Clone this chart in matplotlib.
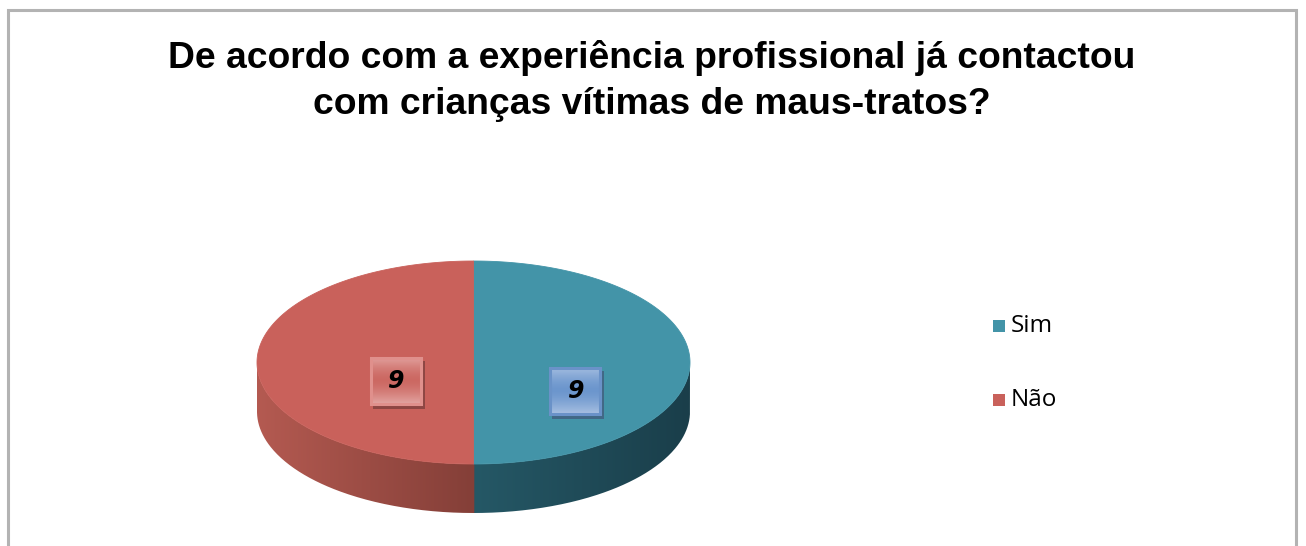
import numpy as np
import matplotlib
matplotlib.use("Agg")
import matplotlib.pyplot as plt
from matplotlib.path import Path
from matplotlib.patches import PathPatch, Rectangle
from matplotlib.colors import to_rgb

# ---- data ----
categories = ["Sim", "Não"]
values = [9, 9]
title_lines = ["De acordo com a experiência profissional já contactou",
               "com crianças vítimas de maus-tratos?"]

# ---- styling ----
top_colors = ["#4394A8", "#C9615B"]
side_colors = [("#255866", "#1A3E4A"), ("#B45A51", "#843F38")]  # (left / right)
box_fill = [("#A9C1E2", "#6C96CD", "#6A92C8"), ("#E3A6A3", "#CC6862", "#E0908C")]
legend_colors = ["#4394A8", "#C9615B"]

W, H = 1306, 546
fig = plt.figure(figsize=(W / 100, H / 100), dpi=100)
ax = fig.add_axes([0, 0, 1, 1])
ax.set_xlim(0, W)
ax.set_ylim(H, 0)
ax.axis("off")

# chart area frame
ax.plot([8, 8, 1296, 1296], [H + 5, 10, 10, H + 5], color="#B3B3B3", lw=2.2,
        solid_joinstyle="miter", zorder=1)

# title
for i, line in enumerate(title_lines):
    ax.text(652, 68 + 46 * i, line, ha="center", va="baseline",
            fontsize=26.8, fontweight="bold", family="Liberation Sans", color="black")

# ---- 3D pie geometry ----
cx, cy, rx, ry, depth = 473.5, 362.5, 216.5, 101.5, 49


def ell(theta_deg, dy=0.0):
    t = np.radians(theta_deg)
    return cx + rx * np.cos(t), cy - ry * np.sin(t) + dy


total = float(sum(values))
start = 90.0
slices = []
for v in values:
    sweep = 360.0 * v / total
    slices.append((start - sweep, start))  # clockwise from the top
    start -= sweep


def gradient_image(x0, x1, y0, y1, c_left, c_right, clip, z):
    n = 256
    a = np.linspace(0, 1, n)[None, :, None]
    cl = np.array(to_rgb(c_left))[None, None, :]
    cr = np.array(to_rgb(c_right))[None, None, :]
    img = cl * (1 - a) + cr * a
    im = ax.imshow(img, extent=(x0, x1, y1, y0), aspect="auto",
                   interpolation="bilinear", zorder=z)
    im.set_clip_path(clip)


# sides: only the front half of the rim is visible
for (a0, a1), (c_a, c_b) in zip(slices, side_colors):
    ts = np.array([t for t in np.linspace(a0, a1, 400)
                   if np.sin(np.radians(t)) <= 1e-9])
    if ts.size == 0:
        continue
    top = np.array([ell(t) for t in ts])
    bot = np.array([ell(t, depth) for t in ts[::-1]])
    pts = np.vstack([top, bot, top[:1]])
    # widen the rim piece slightly at the slice boundary to avoid a seam
    right_side = pts[:, 0].mean() > cx
    edge = np.isclose(pts[:, 0], cx, atol=0.5)
    pts[edge, 0] += -0.8 if right_side else 0.8
    patch = PathPatch(Path(pts), facecolor="none", edgecolor="none", zorder=2)
    ax.add_patch(patch)
    if right_side:
        gradient_image(cx - 1, cx + rx, cy - 5, cy + ry + depth + 5, c_a, c_b, patch, 2)
    else:
        gradient_image(cx - rx, cx + 1, cy - 5, cy + ry + depth + 5, c_a, c_b, patch, 2)

# top faces
for (a0, a1), col in zip(slices, top_colors):
    ts = np.linspace(a0, a1, 400)
    arc = np.array([ell(t) for t in ts])
    pts = np.vstack([[cx, cy], arc, [cx, cy]])
    ax.add_patch(PathPatch(Path(pts), facecolor=col, edgecolor=col, lw=0.6, zorder=3))

# ---- data labels ----
label_radius = [0.47, 0.36]
label_dy = [28, 18]
bw, bh = 52, 48
for (a0, a1), v, f, dy, (c_edge, c_mid, c_border) in zip(slices, values, label_radius,
                                                          label_dy, box_fill):
    mid = np.radians((a0 + a1) / 2)
    lx = cx + f * rx * np.cos(mid)
    ly = cy - f * ry * np.sin(mid) + dy
    x0, y0 = lx - bw / 2, ly - bh / 2
    # drop shadow
    shadow = tuple(0.6 * np.array(to_rgb(c_mid)))
    ax.add_patch(Rectangle((x0 + 3, y0 + 4), bw, bh, facecolor=shadow, alpha=0.75,
                           edgecolor="none", zorder=4))
    rect = Rectangle((x0, y0), bw, bh, facecolor="none", edgecolor="none", zorder=5)
    ax.add_patch(rect)
    n = 128
    s = np.abs(np.linspace(-1, 1, n))[:, None, None]
    ce = np.array(to_rgb(c_edge))[None, None, :]
    cm = np.array(to_rgb(c_mid))[None, None, :]
    img = cm * (1 - s ** 1.5) + ce * s ** 1.5
    im = ax.imshow(img, extent=(x0, x0 + bw, y0 + bh, y0), aspect="auto",
                   interpolation="bilinear", zorder=5)
    im.set_clip_path(rect)
    ax.add_patch(Rectangle((x0 + 1, y0 + 1), bw - 2, bh - 2, facecolor="none",
                           edgecolor=c_border, lw=2.2, zorder=6))
    ax.text(lx, ly + 1, str(v), ha="center", va="center", fontsize=17,
            fontweight="bold", fontstyle="italic", family="DejaVu Sans", color="black",
            zorder=7)

# ---- legend ----
leg_x, leg_y, leg_gap = 993, 326, 74
for i, (name, col) in enumerate(zip(categories, legend_colors)):
    y = leg_y + i * leg_gap
    ax.add_patch(Rectangle((leg_x, y - 6), 12, 12, facecolor=col, edgecolor="none", zorder=5))
    ax.text(leg_x + 18, y, name, ha="left", va="center", fontsize=17.5,
            family="Open Sans", color="black", zorder=5)

fig.savefig("out.png", dpi=100)
